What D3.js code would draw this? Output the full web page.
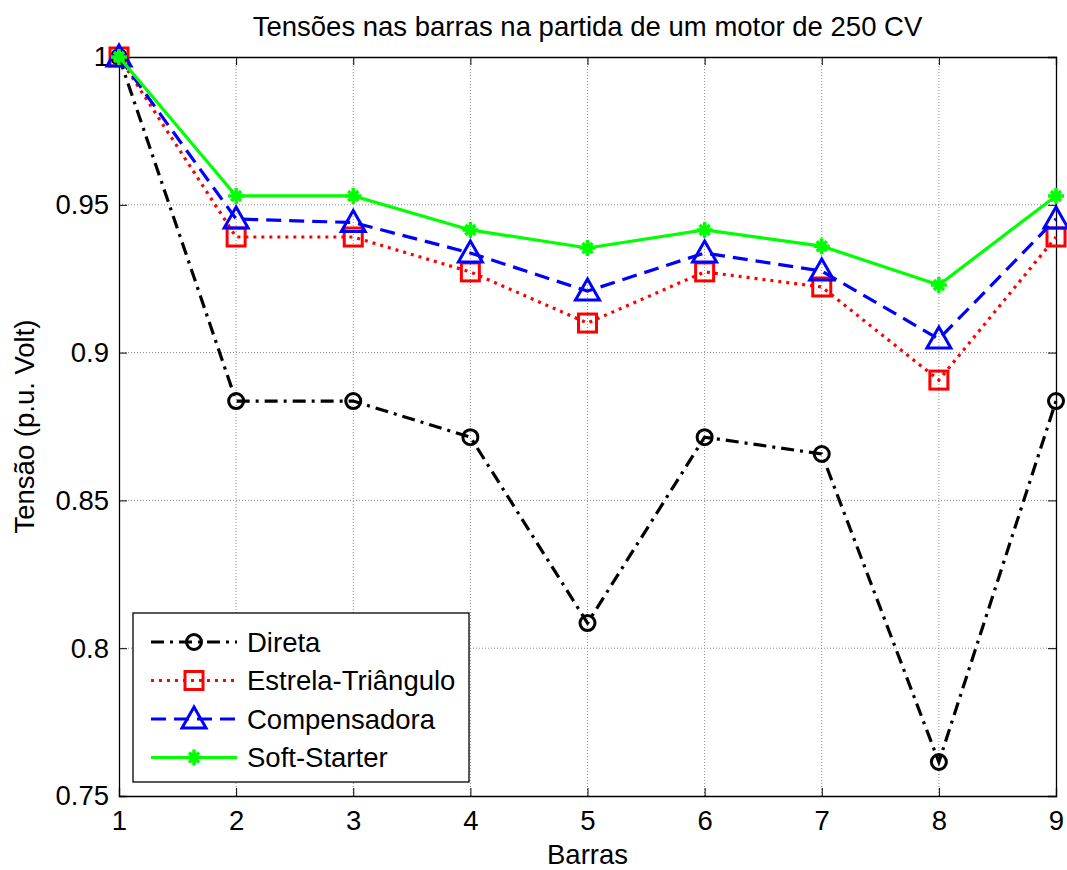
<!DOCTYPE html>
<html>
<head>
<meta charset="utf-8">
<script src="https://cdn.jsdelivr.net/npm/d3@7"></script>
<style>
  html, body { margin: 0; padding: 0; background: #fff; }
  svg { display: block; font-family: "Liberation Sans", Arial, sans-serif; }
</style>
</head>
<body>
<svg id="chart" width="1067" height="870"></svg>
<script>
// Bus numbers (x) and per-unit voltages for each starting method
const barras = [1, 2, 3, 4, 5, 6, 7, 8, 9];
const direta = [1.0, 0.8836, 0.8836, 0.8714, 0.8085, 0.8714, 0.8657, 0.7615, 0.8836];
const estrelaTriangulo = [1.0, 0.9391, 0.9391, 0.9273, 0.9100, 0.9273, 0.9222, 0.8907, 0.9391];
const compensadora = [1.0, 0.9452, 0.9440, 0.9337, 0.9208, 0.9337, 0.9276, 0.9046, 0.9452];
const softStarter = [1.0, 0.9530, 0.9530, 0.9415, 0.9354, 0.9415, 0.9360, 0.9229, 0.9530];
const xTicks = [1, 2, 3, 4, 5, 6, 7, 8, 9];
const yTicks = [0.75, 0.8, 0.85, 0.9, 0.95, 1];

const series = [
  { name: "Direta", values: direta, color: "#000000", dash: "13,6,3,6", marker: "circle" },
  { name: "Estrela-Triângulo", values: estrelaTriangulo, color: "#ff0000", dash: "3,5", marker: "square" },
  { name: "Compensadora", values: compensadora, color: "#0000ff", dash: "15,8", marker: "triangle" },
  { name: "Soft-Starter", values: softStarter, color: "#00ff00", dash: null, marker: "star" }
];

const FS = 27.5;
const svg = d3.select("#chart");
const L = 119, R = 1056, T = 57, B = 796;
const x = d3.scaleLinear().domain([1, 9]).range([L, R]);
const y = d3.scaleLinear().domain([0.75, 1]).range([B, T]);

// grid
const grid = svg.append("g");
grid.selectAll(".gx").data(xTicks.slice(1, -1)).enter().append("line")
  .attr("x1", d => x(d)).attr("x2", d => x(d)).attr("y1", T).attr("y2", B)
  .attr("stroke", "#8c8c8c").attr("stroke-width", 1).attr("stroke-dasharray", "1,2");
grid.selectAll(".gy").data(yTicks.slice(1, -1)).enter().append("line")
  .attr("x1", L).attr("x2", R).attr("y1", d => y(d)).attr("y2", d => y(d))
  .attr("stroke", "#8c8c8c").attr("stroke-width", 1).attr("stroke-dasharray", "1,2");

// axes (ticks pointing inward, mirrored on top/right)
const tk = 8;
const axB = svg.append("g").attr("transform", `translate(0,${B})`)
  .call(d3.axisBottom(x).tickValues(xTicks).tickSize(-tk).tickPadding(14).tickFormat(d3.format("d")));
const axT = svg.append("g").attr("transform", `translate(0,${T})`)
  .call(d3.axisTop(x).tickValues(xTicks).tickSize(-tk).tickFormat(""));
const axL = svg.append("g").attr("transform", `translate(${L},0)`)
  .call(d3.axisLeft(y).tickValues(yTicks).tickSize(-tk).tickPadding(10).tickFormat(d => String(+d.toFixed(2))));
const axR = svg.append("g").attr("transform", `translate(${R},0)`)
  .call(d3.axisRight(y).tickValues(yTicks).tickSize(-tk).tickFormat(""));
[axB, axT, axL, axR].forEach(a => {
  a.select(".domain").attr("stroke", "#000").attr("stroke-width", 1.3);
  a.selectAll(".tick line").attr("stroke", "#000").attr("stroke-width", 1);
  a.selectAll(".tick text").attr("font-size", FS).attr("fill", "#000")
    .attr("font-family", "Liberation Sans, Arial, sans-serif");
});

// marker drawing
function drawMarker(g, type, color) {
  if (type === "circle") {
    g.append("circle").attr("r", 7.5).attr("fill", "none").attr("stroke", color).attr("stroke-width", 3);
  } else if (type === "square") {
    g.append("rect").attr("x", -9).attr("y", -9).attr("width", 18).attr("height", 18)
      .attr("fill", "none").attr("stroke", color).attr("stroke-width", 3);
  } else if (type === "triangle") {
    g.append("path").attr("d", "M0,-12 L12,9 L-12,9 Z")
      .attr("fill", "none").attr("stroke", color).attr("stroke-width", 3).attr("stroke-linejoin", "miter");
  } else {
    g.append("path").attr("d", "M-8,0 L8,0 M0,-8 L0,8 M-5,-5 L5,5 M-5,5 L5,-5")
      .attr("fill", "none").attr("stroke", color).attr("stroke-width", 3.5);
    g.append("circle").attr("r", 4).attr("fill", color);
  }
}

const line = d3.line().x((d, i) => x(barras[i])).y(d => y(d));
series.forEach(s => {
  svg.append("path").datum(s.values).attr("d", line)
    .attr("fill", "none").attr("stroke", s.color).attr("stroke-width", 3.2)
    .attr("stroke-dasharray", s.dash);
  s.values.forEach((v, i) => {
    drawMarker(svg.append("g").attr("transform", `translate(${x(barras[i])},${y(v)})`), s.marker, s.color);
  });
});

// title and axis labels
svg.append("text").attr("x", (L + R) / 2).attr("y", 36).attr("text-anchor", "middle")
  .attr("font-size", FS).text("Tensões nas barras na partida de um motor de 250 CV");
svg.append("text").attr("x", (L + R) / 2).attr("y", 864).attr("text-anchor", "middle")
  .attr("font-size", FS).text("Barras");
svg.append("text").attr("transform", `translate(34,${(T + B) / 2}) rotate(-90)`)
  .attr("text-anchor", "middle").attr("font-size", FS).text("Tensão (p.u. Volt)");

// legend
const lg = svg.append("g").attr("transform", "translate(133,613)");
lg.append("rect").attr("width", 336).attr("height", 169).attr("fill", "#fff")
  .attr("stroke", "#000").attr("stroke-width", 1.3);
series.forEach((s, i) => {
  const cy = 29 + i * 38.5;
  lg.append("line").attr("x1", 18).attr("x2", 104).attr("y1", cy).attr("y2", cy)
    .attr("stroke", s.color).attr("stroke-width", 3.2).attr("stroke-dasharray", s.dash);
  drawMarker(lg.append("g").attr("transform", `translate(61,${cy})`), s.marker, s.color);
  lg.append("text").attr("x", 114).attr("y", cy).attr("dy", "0.36em")
    .attr("font-size", FS).text(s.name);
});
</script>
</body>
</html>
